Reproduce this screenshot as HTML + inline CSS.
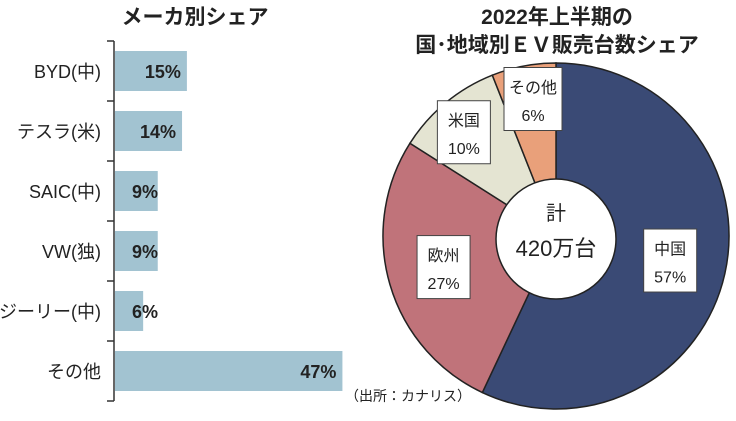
<!DOCTYPE html>
<html><head><meta charset="utf-8"><style>
body{margin:0;background:#fff;width:736px;height:416px;overflow:hidden;font-family:"Liberation Sans","Noto Sans CJK JP",sans-serif}
</style></head><body>
<svg width="736" height="416" xmlns="http://www.w3.org/2000/svg" style="font-family:'Liberation Sans','Noto Sans CJK JP',sans-serif">
<text x="195" y="24" text-anchor="middle" font-size="21" font-weight="bold" fill="#222">メーカ別シェア</text>
<text x="557" y="24" text-anchor="middle" font-size="21" font-weight="bold" fill="#222">2022年上半期の</text>
<text x="557" y="52" text-anchor="middle" font-size="21" font-weight="bold" fill="#222">国･地域別ＥＶ販売台数シェア</text>
<g id="bars"></g>
<g id="pie"></g>
<text x="345" y="401" font-size="14" fill="#222">（出所：カナリス）</text>
</svg>
<script>
const makers=['BYD(中)','テスラ(米)','SAIC(中)','VW(独)','ジーリー(中)','その他'];
const makerShares=[15,14,9,9,6,47];
const regions=['中国','欧州','米国','その他'];
const regionShares=[57,27,10,6];
const ns='http://www.w3.org/2000/svg';
function mk(t,a,p){const e=document.createElementNS(ns,t);for(const k in a)e.setAttribute(k,a[k]);p.appendChild(e);return e;}
const bars=document.getElementById('bars');
const x0=114,top0=41,band=60,pxPer=4.86;
const xs=v=>x0+v*pxPer;
const ax=mk('line',{x1:x0,y1:top0,x2:x0,y2:top0+band*makers.length,stroke:'#333','stroke-width':1.5},bars);


for(let i=0;i<=makers.length;i++){
 const t=mk('line',{x1:x0-7,x2:x0,y1:top0+i*band,y2:top0+i*band,stroke:'#333','stroke-width':1.5},bars);
 
 
}
makers.forEach((m,i)=>{
 const y=top0+i*band+10;
 const r=mk('rect',{x:x0+1,y:y,width:xs(makerShares[i])-x0-1,height:40,fill:'#a2c3d1'},bars);
 
 
 const l=mk('text',{x:x0-13,y:y+27,'text-anchor':'end','font-size':18,fill:'#222'},bars);
 l.textContent=m;
 
 
 const v=mk('text',{x:Math.max(xs(makerShares[i])-6,x0+44),y:y+27,'text-anchor':'end','font-size':18,'font-weight':'bold',fill:'#222'},bars);
 v.textContent=makerShares[i]+'%';
 
 
});
const pie=document.getElementById('pie');
const cx=556,cy=236,R=173,ri=60;
const colors=['#3a4a75','#c0737a','#e4e4d2','#e9a07a'];
const tot=regionShares.reduce((a,b)=>a+b,0);
let acc=0;
const pt=(f,r)=>[cx+r*Math.sin(f*2*Math.PI),cy-r*Math.cos(f*2*Math.PI)];
const mids=[];
regionShares.forEach((v,i)=>{
 const f0=acc/tot,f1=(acc+v)/tot;acc+=v;
 const [a,b]=pt(f0,R),[c,d]=pt(f1,R);
 const p=mk('path',{d:`M${cx},${cy}L${a},${b}A${R},${R} 0 ${f1-f0>0.5?1:0} 1 ${c},${d}Z`,fill:colors[i],stroke:'#222','stroke-width':1.5},pie);
 
 
 mids.push((f0+f1)/2);
});
const hole=mk('circle',{cx:cx,cy:cy+3,r:ri,fill:'#fff',stroke:'#222','stroke-width':1.5},pie);


const c1=mk('text',{x:cx,y:cy-16,'text-anchor':'middle','font-size':20,fill:'#222'},pie);c1.textContent='計';


const c2=mk('text',{x:cx,y:cy+20,'text-anchor':'middle','font-size':22,fill:'#222'},pie);c2.textContent='420万台';


const lr=[117,115,110,158];
const ldx=[0,-2,-22,0];
const ldy=[-1,-1,-19,-70];
regions.forEach((n,i)=>{
 let [x,y]=pt(mids[i],lr[i]);
 if(i==3){x=cx-23;y=cy-137;} else {x+=ldx[i];y+=ldy[i];}
 const w=i==3?58:53,h=63;
 const b=mk('rect',{x:x-w/2,y:y-h/2,width:w,height:h,fill:'#fff',stroke:'#444','stroke-width':1},pie);
 
 
 const t1=mk('text',{x:x,y:y-6,'text-anchor':'middle','font-size':16,fill:'#222'},pie);t1.textContent=n;
 
 
 const t2=mk('text',{x:x,y:y+22,'text-anchor':'middle','font-size':16,fill:'#222'},pie);t2.textContent=regionShares[i]+'%';
 
 
});
</script>
</body></html>
